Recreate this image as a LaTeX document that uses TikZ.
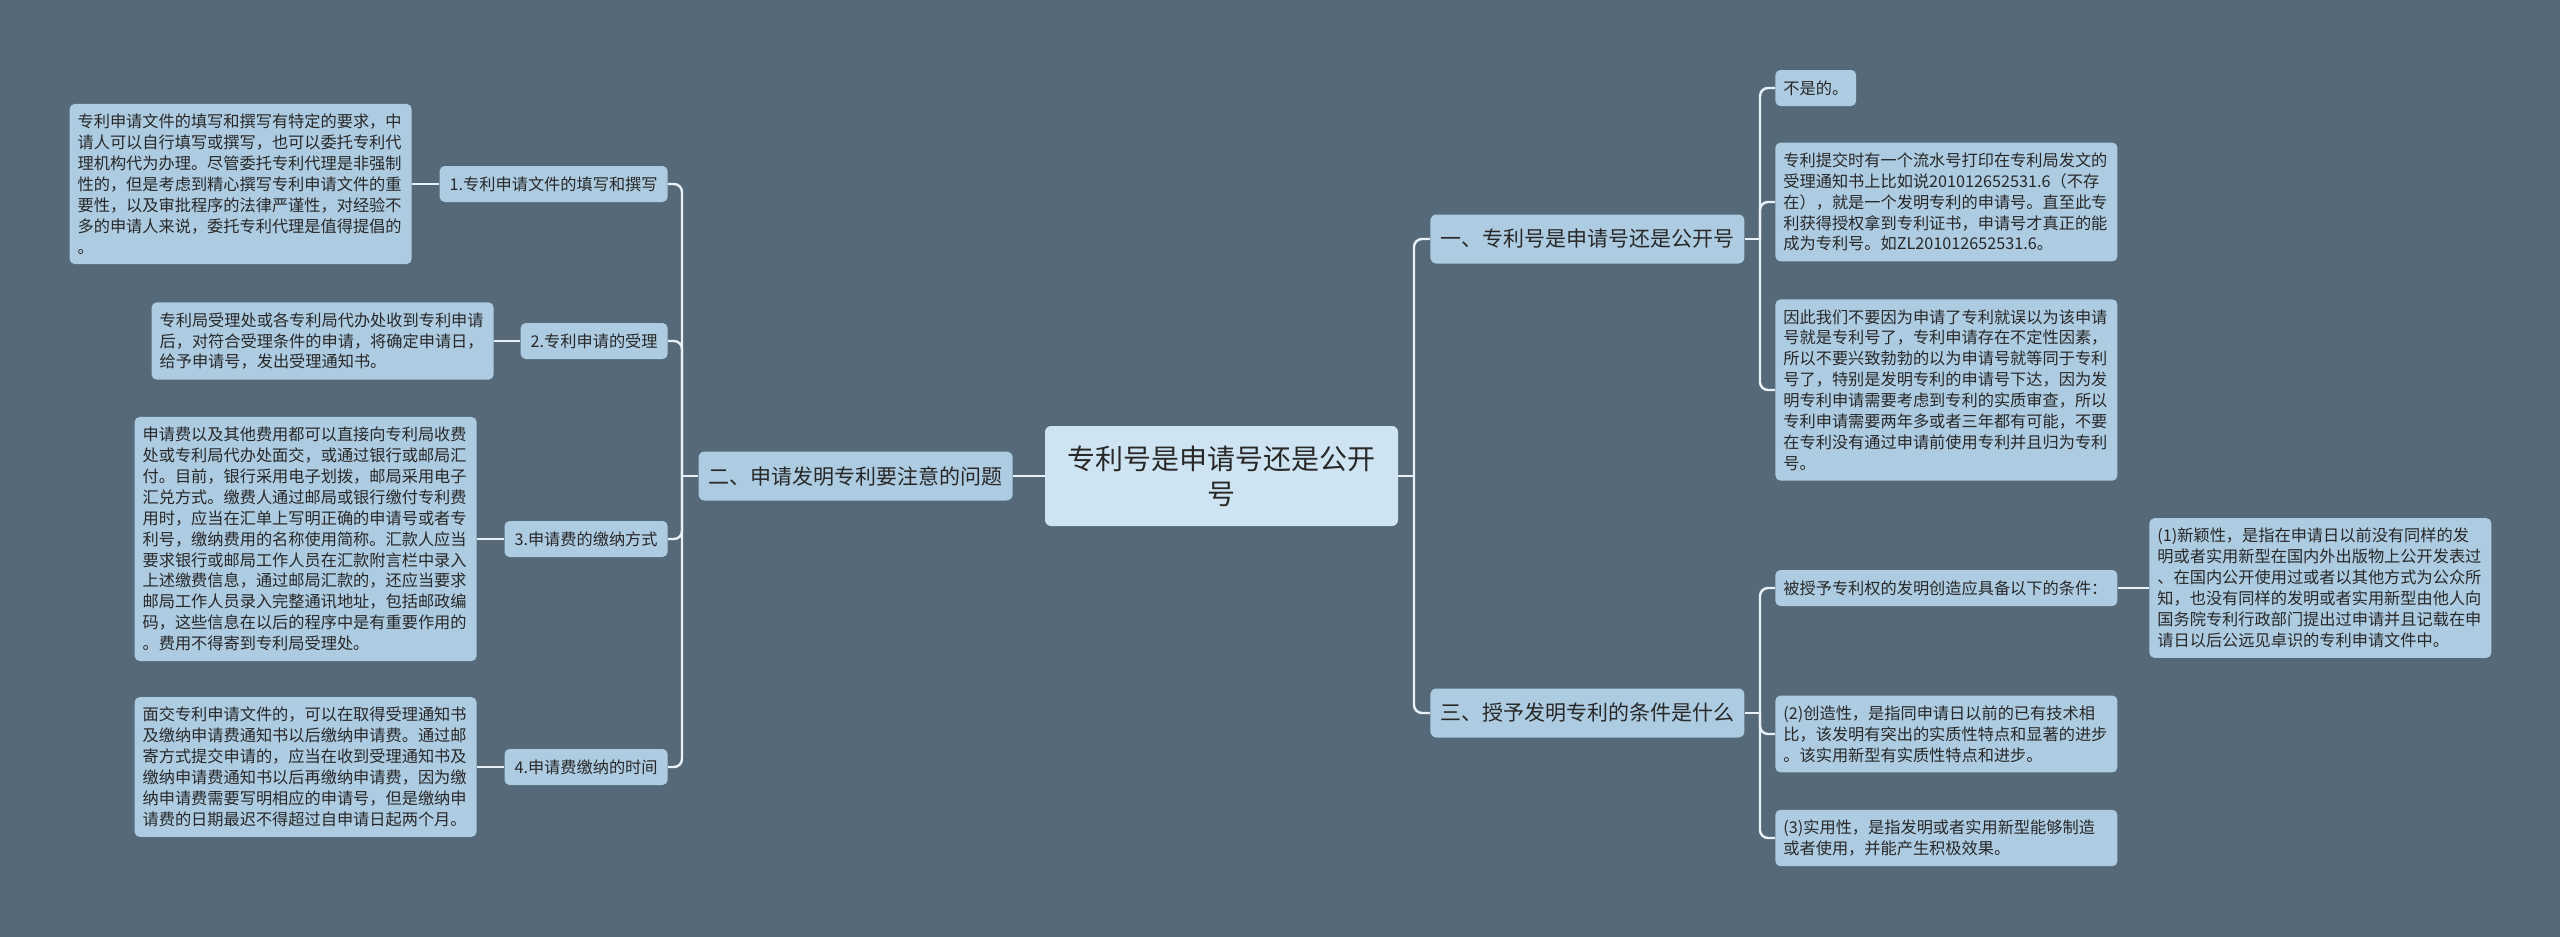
\documentclass[tikz,border=0pt]{standalone}
\usepackage{fontspec}
\setmainfont{Noto Sans CJK SC}

\definecolor{bgslate}{RGB}{85,105,120}
\definecolor{boxblue}{RGB}{173,203,225}
\definecolor{ctrblue}{RGB}{207,228,242}
\definecolor{linkwhite}{RGB}{232,241,247}
\definecolor{inkdark}{RGB}{40,40,40}

\tikzset{
  ctrbox/.style={fill=ctrblue, rounded corners=3pt, align=center, minimum width=176.5pt, minimum height=50pt, font=\fontsize{14pt}{17.5pt}\selectfont, text=inkdark},
  branchbox/.style={fill=boxblue, rounded corners=3pt, inner xsep=5pt, minimum height=24.5pt, font=\fontsize{10.5pt}{13pt}\selectfont, text=inkdark},
  labelbox/.style={fill=boxblue, rounded corners=2.5pt, inner xsep=5pt, minimum height=18pt, font=\fontsize{8.1pt}{10.45pt}\selectfont, text=inkdark},
  notebox/.style={labelbox, inner xsep=4pt, inner ysep=5pt, text width=163pt, align=left},
  link/.style={draw=linkwhite, line width=1.2pt, rounded corners=4pt},
}

\begin{document}
\begin{tikzpicture}[x=0.5pt,y=-0.5pt]
                \fill[bgslate] (0,0) rectangle (2560,937);
                \useasboundingbox (0,0) rectangle (2560,937);

                \node[ctrbox] (ctr) at (1221.5,476) {专利号是申请号还是公开\\号};

                % left side
                \node[branchbox, anchor=east] (b2) at (1013,476) {二、申请发明专利要注意的问题};
                \node[labelbox, anchor=east] (l1) at (668,184) {1.专利申请文件的填写和撰写};
                \node[labelbox, anchor=east] (l2) at (668,341) {2.专利申请的受理};
                \node[labelbox, anchor=east] (l3) at (668,539) {3.申请费的缴纳方式};
                \node[labelbox, anchor=east] (l4) at (668,767) {4.申请费缴纳的时间};

                \node[notebox, anchor=east] (d1) at (412,184) {专利申请文件的填写和撰写有特定的要求，中\\请人可以自行填写或撰写，也可以委托专利代\\理机构代为办理。尽管委托专利代理是非强制\\性的，但是考虑到精心撰写专利申请文件的重\\要性，以及审批程序的法律严谨性，对经验不\\多的申请人来说，委托专利代理是值得提倡的\\。};
                \node[notebox, anchor=east] (d2) at (494,341) {专利局受理处或各专利局代办处收到专利申请\\后，对符合受理条件的申请，将确定申请日，\\给予申请号，发出受理通知书。};
                \node[notebox, anchor=east] (d3) at (477,539) {申请费以及其他费用都可以直接向专利局收费\\处或专利局代办处面交，或通过银行或邮局汇\\付。目前，银行采用电子划拨，邮局采用电子\\汇兑方式。缴费人通过邮局或银行缴付专利费\\用时，应当在汇单上写明正确的申请号或者专\\利号，缴纳费用的名称使用简称。汇款人应当\\要求银行或邮局工作人员在汇款附言栏中录入\\上述缴费信息，通过邮局汇款的，还应当要求\\邮局工作人员录入完整通讯地址，包括邮政编\\码，这些信息在以后的程序中是有重要作用的\\。费用不得寄到专利局受理处。};
                \node[notebox, anchor=east] (d4) at (477,767) {面交专利申请文件的，可以在取得受理通知书\\及缴纳申请费通知书以后缴纳申请费。通过邮\\寄方式提交申请的，应当在收到受理通知书及\\缴纳申请费通知书以后再缴纳申请费，因为缴\\纳申请费需要写明相应的申请号，但是缴纳申\\请费的日期最迟不得超过自申请日起两个月。};

                \coordinate (j2) at (682,476);
                \draw[link] (ctr.west) -- (b2.east);
                \draw[link] (b2.west) -- (j2);
                \foreach \n in {l1,l2,l3,l4} \draw[link] (\n.east) -| (j2);
                \foreach \n in {1,...,4} \draw[link] (d\n.east) -- (l\n.west);

                % right side
                \node[branchbox, anchor=west] (b1) at (1430,239) {一、专利号是申请号还是公开号};
                \node[branchbox, anchor=west] (b3) at (1430,713) {三、授予发明专利的条件是什么};
                \coordinate (jc) at (1414,476);
                \draw[link] (ctr.east) -- (jc);
                \draw[link] (jc) |- (b1.west);
                \draw[link] (jc) |- (b3.west);

                \node[labelbox, inner xsep=4pt, anchor=west] (r1) at (1775,88) {不是的。};
                \node[notebox, anchor=west] (r2) at (1775,202) {专利提交时有一个流水号打印在专利局发文的\\受理通知书上比如说201012652531.6（不存\\在），就是一个发明专利的申请号。直至此专\\利获得授权拿到专利证书，申请号才真正的能\\成为专利号。如ZL201012652531.6。};
                \node[notebox, anchor=west] (r3) at (1775,390) {因此我们不要因为申请了专利就误以为该申请\\号就是专利号了，专利申请存在不定性因素，\\所以不要兴致勃勃的以为申请号就等同于专利\\号了，特别是发明专利的申请号下达，因为发\\明专利申请需要考虑到专利的实质审查，所以\\专利申请需要两年多或者三年都有可能，不要\\在专利没有通过申请前使用专利并且归为专利\\号。};
                \coordinate (j1) at (1760,239);
                \draw[link] (b1.east) -- (j1);
                \foreach \n in {r1,r2,r3} \draw[link] (j1) |- (\n.west);

                \node[notebox, anchor=west] (c0) at (1775,588) {被授予专利权的发明创造应具备以下的条件：};
                \node[notebox, anchor=west] (c1) at (2149,588) {(1)新颖性，是指在申请日以前没有同样的发\\明或者实用新型在国内外出版物上公开发表过\\、在国内公开使用过或者以其他方式为公众所\\知，也没有同样的发明或者实用新型由他人向\\国务院专利行政部门提出过申请并且记载在申\\请日以后公远见卓识的专利申请文件中。};
                \node[notebox, anchor=west] (c2) at (1775,734) {(2)创造性，是指同申请日以前的已有技术相\\比，该发明有突出的实质性特点和显著的进步\\。该实用新型有实质性特点和进步。};
                \node[notebox, anchor=west] (c3) at (1775,838) {(3)实用性，是指发明或者实用新型能够制造\\或者使用，并能产生积极效果。};
                \coordinate (j3) at (1760,713);
                \draw[link] (b3.east) -- (j3);
                \foreach \n in {c0,c2,c3} \draw[link] (j3) |- (\n.west);
                \draw[link] (c0.east) -- (c1.west);
\end{tikzpicture}
\end{document}
